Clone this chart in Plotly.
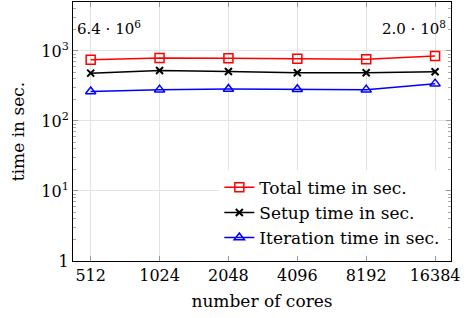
import plotly.graph_objects as go

cores = [512, 1024, 2048, 4096, 8192, 16384]
core_labels = ["512", "1024", "2048", "4096", "8192", "16384"]
total_time = [746, 796, 785, 771, 760, 850]
setup_time = [482, 526, 509, 489, 489, 505]
iteration_time = [263, 280, 286, 284, 280, 341]

y_major = [1, 10, 100, 1000]
y_major_labels = ["1", "10<sup>1</sup>", "10<sup>2</sup>", "10<sup>3</sup>"]
y_minor = [m * 10 ** e for e in range(0, 4) for m in range(2, 10)]

FONT = "DejaVu Serif"

fig = go.Figure()
fig.add_trace(go.Scatter(x=cores, y=total_time, mode="lines+markers", name="Total time in sec.",
                         line=dict(color="#ff0000", width=1.5),
                         marker=dict(symbol="square-open", size=9, color="#ff0000", line=dict(width=1.5))))
fig.add_trace(go.Scatter(x=cores, y=setup_time, mode="lines+markers", name="Setup time in sec.",
                         line=dict(color="#000000", width=1.5),
                         marker=dict(symbol="x-thin-open", size=7, color="#000000", line=dict(width=2))))
fig.add_trace(go.Scatter(x=cores, y=iteration_time, mode="lines+markers", name="Iteration time in sec.",
                         line=dict(color="#0000ff", width=1.5),
                         marker=dict(symbol="triangle-up-open", size=9, color="#0000ff", line=dict(width=1.5))))

fig.update_layout(
    width=475, height=318,
    margin=dict(l=73, r=24, t=2, b=57),
    paper_bgcolor="white", plot_bgcolor="white",
    font=dict(family=FONT, size=16, color="black"),
    showlegend=True,
    legend=dict(x=0.985, y=0.02, xanchor="right", yanchor="bottom", bgcolor="white",
                borderwidth=0, font=dict(family=FONT, size=17), tracegroupgap=0, itemwidth=30),
    annotations=[
        dict(text="6.4 · 10<sup>6</sup>", xref="paper", yref="paper", x=0.005, y=0.9,
             xanchor="left", yanchor="middle", showarrow=False, font=dict(family=FONT, size=15)),
        dict(text="2.0 · 10<sup>8</sup>", xref="paper", yref="paper", x=0.992, y=0.9,
             xanchor="right", yanchor="middle", showarrow=False, font=dict(family=FONT, size=15)),
    ],
)
fig.update_xaxes(
    type="log", range=[2.632, 4.284],
    tickmode="array", tickvals=cores, ticktext=core_labels,
    ticks="inside", ticklen=5, tickcolor="#999999",
    showgrid=True, gridcolor="#e3e3e3", gridwidth=1,
    showline=True, linecolor="black", linewidth=1, mirror="allticks",
    title=dict(text="number of cores", standoff=10, font=dict(family=FONT, size=17)),
    tickfont=dict(family=FONT, size=16), zeroline=False,
)
fig.update_yaxes(
    type="log", range=[0, 3.699],
    tickmode="array", tickvals=y_major, ticktext=y_major_labels,
    ticks="inside", ticklen=5, tickcolor="#999999",
    minor=dict(tickmode="array", tickvals=y_minor, ticks="inside", ticklen=3, tickcolor="#aaaaaa", showgrid=False),
    showgrid=True, gridcolor="#e3e3e3", gridwidth=1,
    showline=True, linecolor="black", linewidth=1, mirror="allticks",
    title=dict(text="time in sec.", standoff=12, font=dict(family=FONT, size=17)),
    tickfont=dict(family=FONT, size=16), zeroline=False,
)

fig.write_html("out.html")
